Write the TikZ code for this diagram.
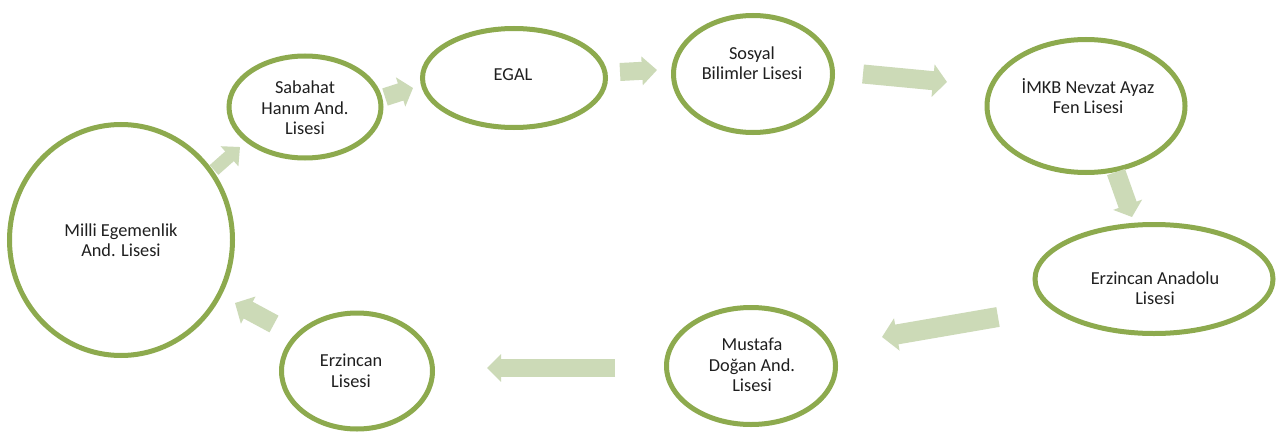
\documentclass[tikz,border=0pt]{standalone}
\usepackage{fontspec}
\setmainfont{Carlito}
\usetikzlibrary{arrows.meta,shapes.geometric}
\definecolor{ringc}{HTML}{8DAA4E}
\definecolor{arrc}{HTML}{CCDAB7}
\begin{document}
\begin{tikzpicture}[x=1pt,y=-1pt,
  ring/.style={ellipse, draw=ringc, line width=5pt, inner sep=0pt},
  lbl/.style={align=center, font=\fontsize{18.3}{20.5}\selectfont, inner sep=0pt, text=black!88},
  barrow/.style n args={3}{draw=arrc, line width=#1pt, -{Triangle[length=#3pt,width=#2pt]}}
]
\useasboundingbox[fill=white] (0,0) rectangle (1279,436);
% rings
\node[ring, minimum width=223pt, minimum height=231pt] (milli) at (121,240) {};
\node[ring, minimum width=152pt, minimum height=102pt] (sab) at (305,107) {};
\node[ring, minimum width=183pt, minimum height=99pt] (egal) at (514,78) {};
\node[ring, minimum width=159pt, minimum height=117pt] (sos) at (753,74) {};
\node[ring, minimum width=198pt, minimum height=133pt] (imkb) at (1086,106) {};
\node[ring, minimum width=238pt, minimum height=109pt] (ean) at (1154,279) {};
\node[ring, minimum width=169pt, minimum height=117pt] (mus) at (751,366) {};
\node[ring, minimum width=151pt, minimum height=116pt] (erz) at (357,371) {};
% labels
\node[lbl] (tmilli) at (121,240) {Milli Egemenlik\\And. Lisesi};
\node[lbl] (tsab) at (305,108) {Sabahat\\Hanım And.\\Lisesi};
\node[lbl] (tegal) at (513,75) {EGAL};
\node[lbl] (tsos) at (752,63) {Sosyal\\Bilimler Lisesi};
\node[lbl] (timkb) at (1088,96) {İMKB Nevzat Ayaz\\Fen Lisesi};
\node[lbl] (tean) at (1155,288) {Erzincan Anadolu\\Lisesi};
\node[lbl] (tmus) at (752,365) {Mustafa\\Doğan And.\\Lisesi};
\node[lbl] (terz) at (351,371) {Erzincan\\Lisesi};
% arrow end points
\coordinate (a1s) at (214,170); \coordinate (a1e) at (240,147);
\coordinate (a2s) at (385,97);  \coordinate (a2e) at (413,88);
\coordinate (a3s) at (620,72);  \coordinate (a3e) at (657,70);
\coordinate (a4s) at (863,74);  \coordinate (a4e) at (947,82);
\coordinate (a5s) at (1116,172); \coordinate (a5e) at (1132,217);
\coordinate (a6s) at (998,317); \coordinate (a6e) at (882,337);
\coordinate (a7s) at (615,368); \coordinate (a7e) at (487,368);
\coordinate (a8s) at (274,324); \coordinate (a8e) at (235,303);
% block arrows
\draw[barrow={13}{26}{14}] (a1s) -- (a1e);
\draw[barrow={18}{30}{13}] (a2s) -- (a2e);
\draw[barrow={18}{28}{15}] (a3s) -- (a3e);
\draw[barrow={19}{32}{14}] (a4s) -- (a4e);
\draw[barrow={19}{30}{13}] (a5s) -- (a5e);
\draw[barrow={20}{32}{15}] (a6s) -- (a6e);
\draw[barrow={18}{27}{14}] (a7s) -- (a7e);
\draw[barrow={19}{30}{15}] (a8s) -- (a8e);
\end{tikzpicture}
\end{document}
